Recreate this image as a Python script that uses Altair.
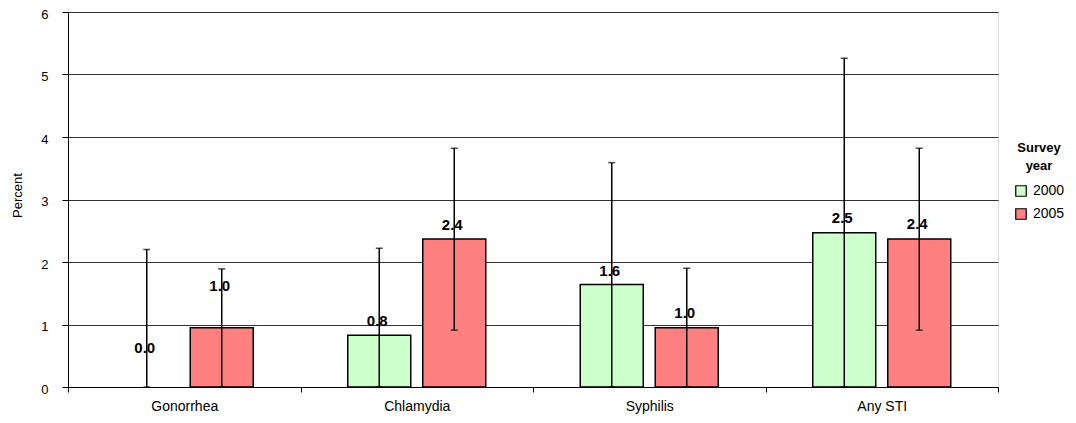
import altair as alt
import pandas as pd

categories = ["Gonorrhea", "Chlamydia", "Syphilis", "Any STI"]
years = ["2000", "2005"]
pct_2000 = [0.0, 0.83, 1.64, 2.47]
pct_2005 = [0.95, 2.37, 0.95, 2.37]
lo_2000 = [0.0, 0.0, 0.0, 0.0]
hi_2000 = [2.20, 2.22, 3.59, 5.26]
lo_2005 = [0.0, 0.91, 0.0, 0.91]
hi_2005 = [1.89, 3.82, 1.90, 3.82]
text_2000 = ["0.0", "0.8", "1.6", "2.5"]
text_2005 = ["1.0", "2.4", "1.0", "2.4"]
# where each value label sits (percent units), as placed in the reference
label_at_2000 = [0.63, 1.06, 1.86, 2.71]
label_at_2005 = [1.62, 2.60, 1.18, 2.61]

rows = []
for i, c in enumerate(categories):
    rows.append(dict(cat=c, year="2000", pct=pct_2000[i], lo=lo_2000[i], hi=hi_2000[i],
                     txt=text_2000[i], lab=label_at_2000[i]))
    rows.append(dict(cat=c, year="2005", pct=pct_2005[i], lo=lo_2005[i], hi=hi_2005[i],
                     txt=text_2005[i], lab=label_at_2005[i]))
df = pd.DataFrame(rows)

FONT = "Liberation Sans"

x = alt.X("cat:N", sort=categories, title=None,
          scale=alt.Scale(paddingInner=0, paddingOuter=0),
          axis=alt.Axis(tickBand="extent", labelAngle=0, labelFontSize=14, labelFont=FONT,
                        labelColor="#000", tickColor="#000", domainColor="#000", tickSize=5,
                        labelPadding=7, grid=False))
xo = alt.XOffset("year:N", sort=years,
                 scale=alt.Scale(paddingInner=0.16, paddingOuter=0.63))
y = alt.Y("pct:Q", title="Percent",
          scale=alt.Scale(domain=[0, 6], nice=False),
          axis=alt.Axis(values=[0, 1, 2, 3, 4, 5, 6], format="d", labelFontSize=13, labelFont=FONT,
                        labelColor="#000", tickColor="#000", domainColor="#000", tickSize=6,
                        labelPadding=14, labelOffset=2, gridColor="#333", gridOpacity=1, gridWidth=1,
                        titleFont=FONT, titleFontSize=13, titleFontWeight="normal",
                        titleColor="#000", titleX=-51, titleY=183, titleAngle=270,
                        titleAlign="center", titleBaseline="middle"))

color = alt.Color("year:N", sort=years,
                  scale=alt.Scale(domain=years, range=["#CCFFCC", "#FF8080"]),
                  legend=alt.Legend(title=["Survey", "year"], orient="none", legendX=946, legendY=130,
                                    titleFont=FONT, titleFontSize=13, titleFontWeight="bold",
                                    titleAlign="center", titleAnchor="middle", titleColor="#000",
                                    titleLineHeight=18, titlePadding=11,
                                    labelFont=FONT, labelFontSize=14, labelColor="#000",
                                    symbolType="square", symbolSize=110, symbolStrokeColor="#000",
                                    symbolStrokeWidth=1.2, rowPadding=7, labelOffset=5))

bars = alt.Chart(df).transform_filter("datum.pct > 0").mark_bar(
    stroke="#000", strokeWidth=1.5).encode(x=x, xOffset=xo, y=y, color=color)

err = alt.Chart(df).mark_rule(color="#000", strokeWidth=1.5).encode(
    x=alt.X("cat:N", sort=categories), xOffset=xo, y="lo:Q", y2="hi:Q")

cap_hi = alt.Chart(df).mark_tick(color="#000", thickness=1.5, size=7, orient="horizontal").encode(
    x=alt.X("cat:N", sort=categories), xOffset=xo, y="hi:Q")
cap_lo = alt.Chart(df).mark_tick(color="#000", thickness=1.5, size=7, orient="horizontal").encode(
    x=alt.X("cat:N", sort=categories), xOffset=xo, y="lo:Q")

labels = alt.Chart(df).mark_text(font=FONT, fontSize=15, fontWeight="bold", color="#000",
                                 baseline="middle", align="center", dx=-2).encode(
    x=alt.X("cat:N", sort=categories), xOffset=xo, y="lab:Q", text="txt:N")

chart = alt.layer(bars, err, cap_hi, cap_lo, labels).properties(
    width=930, height=375,
    autosize=alt.AutoSizeParams(type="none"),
    padding={"left": 60, "top": 4, "right": 70, "bottom": 28},
).configure_view(stroke=None).configure(background="#ffffff")

chart.save("out.html", embed_options={"renderer": "svg", "actions": False})
